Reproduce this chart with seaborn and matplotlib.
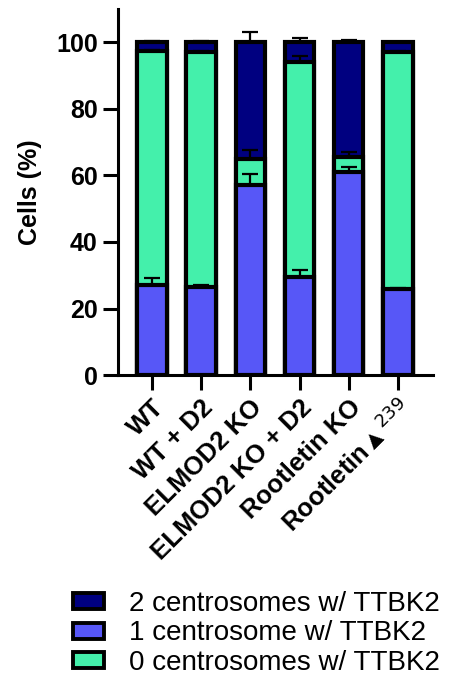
import numpy as np
import pandas as pd
import seaborn as sns
import matplotlib.pyplot as plt
from matplotlib.patches import Patch

groups = ["WT", "WT + D2", "ELMOD2 KO", "ELMOD2 KO + D2", "Rootletin KO",
          "Rootletin▲$^{239}$"]
one_c = [27.0, 26.6, 57.0, 29.4, 61.0, 26.0]
zero_c = [70.5, 70.4, 8.0, 64.6, 4.4, 71.2]
two_c = [2.5, 3.0, 35.0, 6.0, 34.6, 2.8]
one_err = [2.3, 0.6, 3.5, 2.2, 1.5, 0.3]
zero_err = [0.3, 0.3, 2.5, 2.0, 1.5, 0.3]
two_err = [0.4, 0.4, 3.0, 1.4, 0.7, 0.2]
series = ["2 centrosomes w/ TTBK2", "1 centrosome w/ TTBK2",
          "0 centrosomes w/ TTBK2"]
colors = ["#000080", "#5757f7", "#44f0ab"]

df = pd.DataFrame({"group": groups, "one": one_c, "zero": zero_c, "two": two_c})
df["lvl1"] = df["one"]
df["lvl2"] = df["one"] + df["zero"]
df["lvl3"] = df["lvl2"] + df["two"]

sns.set_style("ticks", {"axes.edgecolor": "black", "text.color": "black",
                        "xtick.color": "black", "ytick.color": "black",
                        "axes.labelcolor": "black"})
plt.rcParams["font.family"] = ["Liberation Sans", "DejaVu Sans"]

fig = plt.figure(figsize=(4.7, 6.87), dpi=100)
ax = fig.add_axes([0.251, 0.454, 0.67, 0.533])

lw = 3.0
# stacked bars: draw cumulative totals first, lower segments on top
for col, c in [("lvl3", colors[0]), ("lvl2", colors[2]), ("lvl1", colors[1])]:
    sns.barplot(data=df, x="group", y=col, color=c, width=0.6,
                edgecolor="black", linewidth=lw, saturation=1, ax=ax)

x = np.arange(len(groups))
for tops, errs in [(df["lvl1"], one_err), (df["lvl2"], zero_err), (df["lvl3"], two_err)]:
    ax.errorbar(x, tops, yerr=[np.zeros(len(x)), errs], fmt="none",
                ecolor="black", elinewidth=1.6, capsize=6, capthick=1.6)

ax.set_xlim(-0.69, 5.71)
ax.set_ylim(0, 110)
ax.set_yticks([0, 20, 40, 60, 80, 100])
ax.set_xlabel("")
ax.set_ylabel("Cells (%)", fontsize=18, fontweight="bold", labelpad=10)
sns.despine(ax=ax)
ax.spines["left"].set_bounds(0, 110)
for s in ["left", "bottom"]:
    ax.spines[s].set_linewidth(2.2)
ax.tick_params(axis="both", width=2.2, length=11, labelsize=18)
ax.set_xticks(x)
ax.set_xticklabels(groups, rotation=45, ha="right", rotation_mode="anchor",
                   fontweight="bold", fontsize=18.5)
for t in ax.get_yticklabels():
    t.set_fontweight("bold")

handles = [Patch(facecolor=c, edgecolor="black", linewidth=2.8) for c in colors]
fig.legend(handles, series, loc="lower left", bbox_to_anchor=(0.115, -0.012),
           frameon=False, fontsize=20, handlelength=1.1, handleheight=0.5,
           labelspacing=0.12, handletextpad=0.9, borderpad=0.2)

fig.savefig("out.png", dpi=100)
